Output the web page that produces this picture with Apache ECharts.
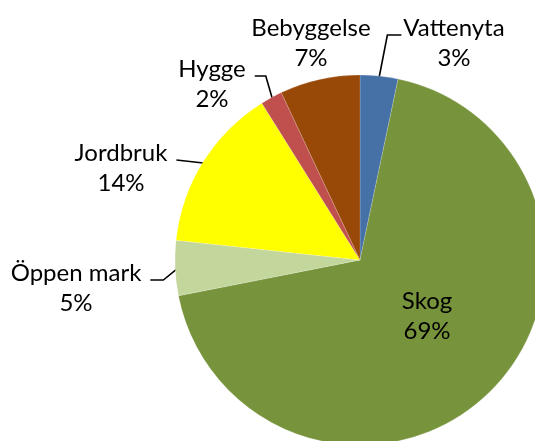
<!DOCTYPE html>
<html>
<head>
<meta charset="utf-8">
<script src="https://cdn.jsdelivr.net/npm/echarts@6/dist/echarts.min.js"></script>
<style>
  html, body { margin: 0; padding: 0; background: #fff; }
  #chart { width: 535px; height: 441px; }
</style>
</head>
<body>
<div id="chart"></div>
<script>
// markanvändning, andel av ytan (%)
const categories = ['Vattenyta', 'Skog', 'Öppen mark', 'Jordbruk', 'Hygge', 'Bebyggelse'];
const shares = [3.3, 68.6, 4.8, 14.4, 1.9, 7.0];
const colors = ['#4571A7', '#77933C', '#C3D69B', '#FFFF00', '#C0504D', '#984807'];

const CX = 360, CY = 260, R = 185;

// label block centre, leader side and elbow length per category
const labelPos = {
  'Vattenyta':  { x: 454, y: 43,  line: 'up',   elbow: 14 },
  'Bebyggelse': { x: 311, y: 43,  line: null },
  'Hygge':      { x: 212, y: 84,  line: 'left', elbow: 11 },
  'Jordbruk':   { x: 121, y: 168, line: 'left', elbow: 0 },
  'Öppen mark': { x: 76,  y: 288, line: 'left', elbow: 13 },
  'Skog':       { x: 427, y: 316, line: null }
};

const total = shares.reduce((a, b) => a + b, 0);
function midAngle(i) {
  let before = 0;
  for (let k = 0; k < i; k++) before += shares[k];
  return ((before + shares[i] / 2) / total) * Math.PI * 2;
}

const chart = echarts.init(document.getElementById('chart'));
chart.setOption({
  animation: false,
  series: [{
    type: 'pie',
    center: [CX, CY],
    radius: R,
    startAngle: 90,
    clockwise: true,
    data: categories.map((c, i) => ({
      name: c, value: shares[i],
      itemStyle: { color: colors[i] },
      label: c === 'Skog' ? { position: 'inside' } : { position: 'outside' },
      labelLine: { show: !!labelPos[c].line }
    })),
    itemStyle: { borderColor: 'rgba(255,255,255,0.35)', borderWidth: 0.5 },
    label: {
      show: true,
      formatter: p => p.name + '\n' + Math.round(p.percent) + '%',
      fontFamily: 'Lato',
      fontSize: 24,
      lineHeight: 30,
      color: '#000',
      align: 'center'
    },
    labelLine: { lineStyle: { color: '#000', width: 1.6 }, length: 10, length2: 10 },
    labelLayout: function (params) {
      const i = params.dataIndex;
      const lp = labelPos[categories[i]];
      const res = { x: lp.x, y: lp.y, align: 'center', verticalAlign: 'middle' };
      if (!lp.line) return res;
      const a = midAngle(i);
      const sx = CX + R * 0.985 * Math.sin(a);
      const sy = CY - R * 0.985 * Math.cos(a);
      const w = params.labelRect.width;
      const ly = lp.y - 8;
      if (lp.line === 'up') {
        const ex = lp.x - w / 2 - 2;
        res.labelLinePoints = [[sx, sy], [ex - lp.elbow, ly], [ex, ly]];
      } else {
        const ex = lp.x + w / 2 + 9;
        res.labelLinePoints = lp.elbow
          ? [[sx, sy], [ex + lp.elbow, ly], [ex, ly]]
          : [[sx, sy], [ex, ly]];
      }
      return res;
    }
  }]
});
</script>
</body>
</html>
